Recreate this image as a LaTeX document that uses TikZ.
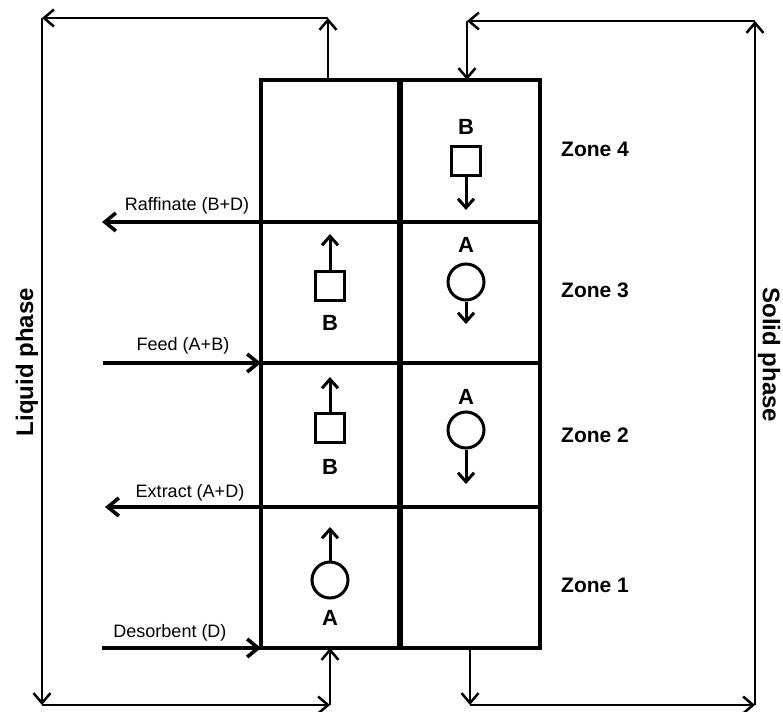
\documentclass[tikz,border=0pt]{standalone}
\usepackage{fontspec}
\setmainfont{Liberation Sans}
\usetikzlibrary{arrows.meta}
\begin{document}
\begin{tikzpicture}[x=1pt,y=-1pt,
  gridline/.style={line width=4pt},
  loopline/.style={line width=2.5pt,-{Straight Barb[length=10pt,width=17pt,line width=2.5pt]}},
  feedline/.style={line width=3.6pt,-{Straight Barb[length=11pt,width=18pt,line width=3.6pt]}},
  symarrow/.style={line width=3pt,-{Straight Barb[length=9pt,width=16pt,line width=3pt]}},
  sq/.style={draw,line width=3pt,minimum size=29pt,inner sep=0pt},
  circ/.style={draw,circle,line width=3pt,minimum size=36pt,inner sep=0pt},
  letter/.style={font=\fontsize{22}{22}\selectfont\bfseries,inner sep=0pt},
  zone/.style={font=\fontsize{21}{21}\selectfont\bfseries,anchor=west,inner sep=0pt},
  flow/.style={font=\fontsize{18}{18}\selectfont,inner sep=0pt},
  phase/.style={font=\fontsize{24}{24}\selectfont\bfseries,inner sep=0pt}]
\useasboundingbox (0,0) rectangle (783,711);
% grid corners
\coordinate (TL) at (261,80);
\coordinate (TM) at (400,80);
\coordinate (TR) at (540,80);
\coordinate (BL) at (261,648);
\coordinate (BM) at (400,648);
\coordinate (BR) at (540,648);
\coordinate (L1) at (261,222); \coordinate (R1) at (540,222);
\coordinate (L2) at (261,363); \coordinate (R2) at (540,363);
\coordinate (L3) at (261,507); \coordinate (R3) at (540,507);
\draw[gridline] (TL) rectangle (BR);
\draw[line width=5.5pt] (TM) -- (BM);
\draw[gridline] (L1) -- (R1);
\draw[gridline] (L2) -- (R2);
\draw[gridline] (L3) -- (R3);
% loop coordinates
\coordinate (lt) at (328,80);
\coordinate (ltc) at (328,18);
\coordinate (ltl) at (42,18);
\coordinate (lbl) at (42,705);
\coordinate (lbc) at (330,705);
\coordinate (lb) at (330,648);
\coordinate (rt) at (467,80);
\coordinate (rtc) at (467,21);
\coordinate (rtr) at (755,21);
\coordinate (rbr) at (755,705);
\coordinate (rbc) at (470,705);
\coordinate (rb) at (470,648);
\draw[loopline] (lt) -- (ltc);
\draw[loopline] (ltc) -- (ltl);
\draw[loopline] (ltl) -- (lbl);
\draw[loopline] (lbl) -- (lbc);
\draw[loopline] (lbc) -- (lb);
\draw[loopline] (rbr) -- (rtr);
\draw[loopline] (rtr) -- (rtc);
\draw[loopline] (rtc) -- (rt);
\draw[loopline] (rb) -- (rbc);
\draw[loopline] (rbc) -- (rbr);
% phase labels
\node[phase,rotate=90] (liq) at (27,362) {Liquid phase};
\node[phase,rotate=-90] (sol) at (769,355) {Solid phase};
% flows
\coordinate (raf) at (102,222);
\coordinate (fee) at (103,363);
\coordinate (ext) at (105,507);
\coordinate (des) at (102,648);
\draw[feedline] (L1) -- (raf);
\draw[feedline] (fee) -- (L2);
\draw[feedline] (L3) -- (ext);
\draw[feedline] (des) -- (BL);
\node[flow] (traf) at (187,206) {Raffinate (B+D)};
\node[flow] (tfee) at (183,346) {Feed (A+B)};
\node[flow] (text) at (190,493) {Extract (A+D)};
\node[flow] (tdes) at (170,633) {Desorbent (D)};
% zones
\node[zone] (z4) at (561,149) {Zone 4};
\node[zone] (z3) at (561,290) {Zone 3};
\node[zone] (z2) at (561,435) {Zone 2};
\node[zone] (z1) at (561,585) {Zone 1};
% zone 4 right
\node[letter] (b4) at (466,127) {B};
\node[sq] (s4) at (466,161) {};
\coordinate (a4) at (466,210);
\draw[symarrow] (s4.south) -- (a4);
% zone 3 left
\node[sq] (s3) at (330,286) {};
\node[letter] (b3) at (330,323) {B};
\coordinate (a3) at (330,234);
\draw[symarrow] (s3.north) -- (a3);
% zone 3 right
\node[letter] (ra3) at (466,245) {A};
\node[circ] (c3) at (466,282) {};
\coordinate (d3) at (466,324);
\draw[symarrow] (c3.south) -- (d3);
% zone 2 left
\node[sq] (s2) at (330,428) {};
\node[letter] (b2) at (330,467) {B};
\coordinate (a2) at (330,377);
\draw[symarrow] (s2.north) -- (a2);
% zone 2 right
\node[letter] (ra2) at (466,397) {A};
\node[circ] (c2) at (466,430) {};
\coordinate (d2) at (466,484);
\draw[symarrow] (c2.south) -- (d2);
% zone 1 left
\node[circ] (c1) at (330,580) {};
\node[letter] (ra1) at (330,618) {A};
\coordinate (a1) at (330,527);
\draw[symarrow] (c1.north) -- (a1);
\end{tikzpicture}
\end{document}
